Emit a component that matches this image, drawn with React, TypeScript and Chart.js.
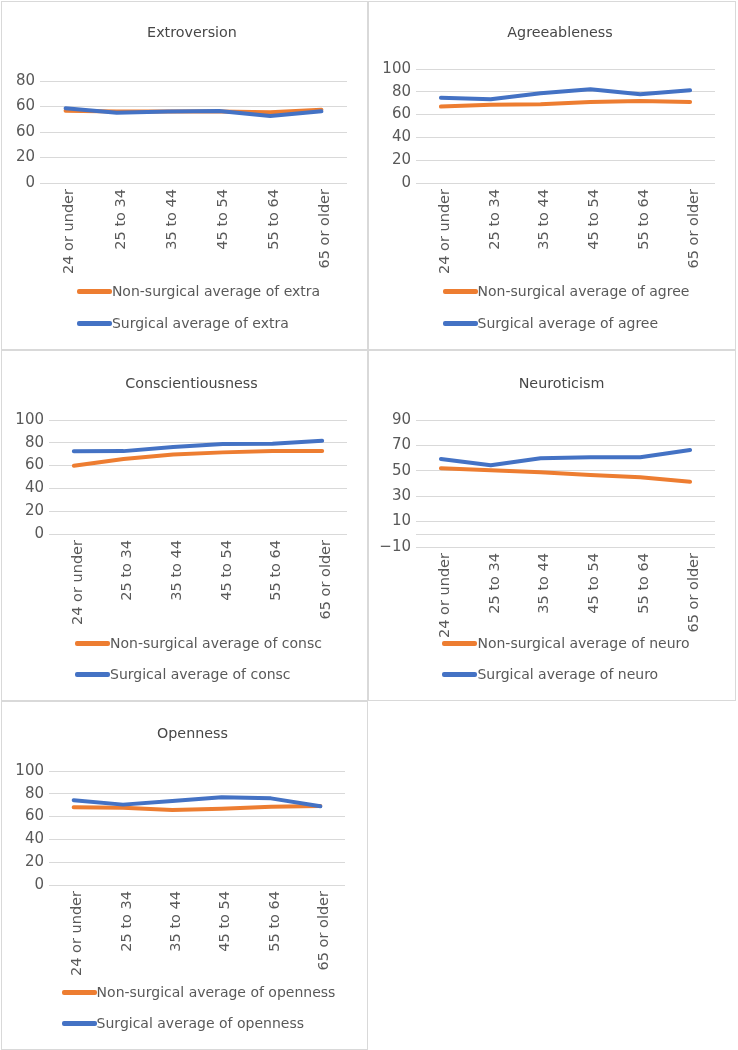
import React, { useEffect, useRef } from "react";
import { Chart, registerables } from "chart.js";

Chart.register(...registerables);

// ---------- data ----------
const ageGroups = ["24 or under", "25 to 34", "35 to 44", "45 to 54", "55 to 64", "65 or older"];

const extraNonSurgical = [56.7, 56, 56, 56, 55.4, 57.5];
const extraSurgical = [58.6, 55.1, 56, 56.5, 52.5, 56.2];

const agreeNonSurgical = [67, 68.7, 69, 71, 72, 71];
const agreeSurgical = [74.8, 73.4, 78.7, 82.2, 77.8, 81.3];

const conscNonSurgical = [59.8, 65.7, 69.8, 71.6, 72.7, 72.7];
const conscSurgical = [72.5, 72.7, 76.3, 78.9, 79.2, 81.8];

const neuroNonSurgical = [52, 50.4, 48.8, 46.7, 44.9, 41.4];
const neuroSurgical = [59.3, 54.3, 59.8, 60.6, 60.6, 66.3];

const opennessNonSurgical = [68.2, 67.8, 65.8, 66.9, 68.7, 69.3];
const opennessSurgical = [74.3, 70.5, 73.7, 76.9, 76.0, 69];

// tick labels as printed on the Extroversion axis (bottom to top)
const extraTickLabels = ["0", "20", "60", "60", "80"];

const ORANGE = "#ED7D31";
const BLUE = "#4472C4";
const GRID = "#d9d9d9";
const TEXT = "#595959";
const TITLE_TEXT = "#474747";
const FONT = "'DejaVu Sans', sans-serif";

type PanelSpec = {
  title: string;
  nonLabel: string;
  surgLabel: string;
  non: number[];
  surg: number[];
  min: number;
  max: number;
  step: number;
  tickLabels?: string[];
  // layout
  left: number;
  top: number;
  width: number;
  height: number;
  plotLeft: number;
  plotRight: number;
  plotTop: number;
  plotBottom: number;
  titleX: number;
  titleY: number;
  legendY: [number, number];
};

const panels: PanelSpec[] = [
  {
    title: "Extroversion",
    nonLabel: "Non-surgical average of extra",
    surgLabel: "Surgical average of extra",
    non: extraNonSurgical,
    surg: extraSurgical,
    min: 0, max: 80, step: 20,
    tickLabels: extraTickLabels,
    left: 1, top: 1, width: 367, height: 349,
    plotLeft: 38, plotRight: 345, plotTop: 79, plotBottom: 181,
    titleX: 190, titleY: 31, legendY: [289, 321],
  },
  {
    title: "Agreeableness",
    nonLabel: "Non-surgical average of agree",
    surgLabel: "Surgical average of agree",
    non: agreeNonSurgical,
    surg: agreeSurgical,
    min: 0, max: 100, step: 20,
    left: 368, top: 1, width: 368, height: 349,
    plotLeft: 47, plotRight: 346, plotTop: 67, plotBottom: 181,
    titleX: 191, titleY: 31, legendY: [289, 321],
  },
  {
    title: "Conscientiousness",
    nonLabel: "Non-surgical average of consc",
    surgLabel: "Surgical average of consc",
    non: conscNonSurgical,
    surg: conscSurgical,
    min: 0, max: 100, step: 20,
    left: 1, top: 350, width: 367, height: 351,
    plotLeft: 47, plotRight: 345, plotTop: 69, plotBottom: 183,
    titleX: 189.5, titleY: 33, legendY: [292, 323],
  },
  {
    title: "Neuroticism",
    nonLabel: "Non-surgical average of neuro",
    surgLabel: "Surgical average of neuro",
    non: neuroNonSurgical,
    surg: neuroSurgical,
    min: -10, max: 90, step: 20,
    left: 368, top: 350, width: 368, height: 351,
    plotLeft: 47, plotRight: 346, plotTop: 69, plotBottom: 196,
    titleX: 192.5, titleY: 33, legendY: [292, 323],
  },
  {
    title: "Openness",
    nonLabel: "Non-surgical average of openness",
    surgLabel: "Surgical average of openness",
    non: opennessNonSurgical,
    surg: opennessSurgical,
    min: 0, max: 100, step: 20,
    left: 1, top: 701, width: 367, height: 349,
    plotLeft: 47, plotRight: 343, plotTop: 69, plotBottom: 183,
    titleX: 190.5, titleY: 32, legendY: [290, 321],
  },
];

const zeroLinePlugin = {
  id: "zeroLine",
  beforeDatasetsDraw(chart: any) {
    const y = chart.scales.y;
    if (!y || y.min > 0 || y.max < 0) return;
    const py = Math.round(y.getPixelForValue(0)) + 0.5;
    const ctx = chart.ctx;
    ctx.save();
    ctx.strokeStyle = GRID;
    ctx.lineWidth = 1;
    ctx.beginPath();
    ctx.moveTo(chart.chartArea.left, py);
    ctx.lineTo(chart.chartArea.right, py);
    ctx.stroke();
    ctx.restore();
  },
};

function Panel({ spec }: { spec: PanelSpec }) {
  const ref = useRef<HTMLCanvasElement | null>(null);
  const innerW = spec.width - 2;
  const innerH = spec.height - 2;

  useEffect(() => {
    if (!ref.current) return;
    const titleSize = 14.3;
    const titleLine = titleSize * 1.2;
    const titleTopPad = spec.titleY - titleLine / 2;
    const titleBottomPad = spec.plotTop - titleTopPad - titleLine;
    const padRight = innerW - spec.plotRight;

    // centre the title where the original sits (over the plot, not the canvas)
    const titleCenterPlugin = {
      id: "titleCenter",
      afterLayout(chart: any) {
        const tb = chart.titleBlock;
        if (!tb) return;
        const half = 160;
        tb.left = spec.titleX - half;
        tb.right = spec.titleX + half;
        tb.width = 2 * half;
      },
    };

    const chart = new Chart(ref.current, {
      type: "line",
      data: {
        labels: ageGroups,
        datasets: [
          {
            label: spec.nonLabel,
            data: spec.non,
            borderColor: ORANGE,
            backgroundColor: ORANGE,
            borderWidth: 4,
            pointRadius: 0,
            tension: 0,
            borderCapStyle: "round",
            borderJoinStyle: "round",
            order: 1,
          },
          {
            label: spec.surgLabel,
            data: spec.surg,
            borderColor: BLUE,
            backgroundColor: BLUE,
            borderWidth: 4,
            pointRadius: 0,
            tension: 0,
            borderCapStyle: "round",
            borderJoinStyle: "round",
            order: 0,
          },
        ],
      },
      options: {
        responsive: true,
        maintainAspectRatio: false,
        animation: false,
        layout: {
          padding: { left: 0, right: padRight, top: 0, bottom: 0 },
        },
        plugins: {
          legend: { display: false },
          tooltip: { enabled: false },
          title: {
            display: true,
            text: spec.title,
            color: TITLE_TEXT,
            font: { family: FONT, size: titleSize, weight: "normal" },
            padding: { top: titleTopPad, bottom: titleBottomPad },
          },
        },
        scales: {
          x: {
            offset: true,
            grid: { display: false, drawTicks: false },
            border: { display: false },
            ticks: {
              autoSkip: false,
              minRotation: 90,
              maxRotation: 90,
              padding: 6,
              labelOffset: 4,
              color: TEXT,
              font: { family: FONT, size: 14.5 },
            },
            afterFit: (scale: any) => {
              scale.height = innerH - spec.plotBottom;
            },
          },
          y: {
            min: spec.min,
            max: spec.max,
            grid: { color: GRID, drawTicks: false, lineWidth: 1 },
            border: { display: false },
            ticks: {
              stepSize: spec.step,
              padding: 5,
              color: TEXT,
              font: { family: FONT, size: 15 },
              callback: (value: any, index: number) => {
                if (spec.tickLabels) return spec.tickLabels[index];
                const v = Number(value);
                return v < 0 ? "\u2212" + Math.abs(v) : String(v);
              },
            },
            afterFit: (scale: any) => {
              scale.width = spec.plotLeft;
            },
          },
        },
      },
      plugins: [zeroLinePlugin, titleCenterPlugin],
    } as any);
    return () => chart.destroy();
  }, [spec]);

  const rowStyle = (cy: number): React.CSSProperties => ({
    position: "absolute",
    top: cy - 10,
    height: 20,
    display: "flex",
    alignItems: "center",
    whiteSpace: "nowrap",
  });

  return (
    <div
      style={{
        position: "absolute",
        left: spec.left,
        top: spec.top,
        width: spec.width,
        height: spec.height,
        boxSizing: "border-box",
        border: `1px solid ${GRID}`,
        background: "#fff",
      }}
    >
      <div style={{ position: "absolute", left: 0, top: 0, width: innerW, height: innerH }}>
        <canvas ref={ref} />
      </div>
      <div
        style={{
          position: "absolute",
          left: 28,
          right: 0,
          top: 0,
          height: innerH,
          display: "flex",
          justifyContent: "center",
          pointerEvents: "none",
        }}
      >
        <div style={{ position: "relative", display: "inline-block" }}>
          <div style={{ visibility: "hidden", height: 0, overflow: "hidden", fontFamily: FONT, fontSize: 14 }}>
            <span style={{ display: "inline-block", width: 35 }} />
            {spec.nonLabel.length > spec.surgLabel.length ? spec.nonLabel : spec.surgLabel}
          </div>
          {[
            { label: spec.nonLabel, color: ORANGE, cy: spec.legendY[0] },
            { label: spec.surgLabel, color: BLUE, cy: spec.legendY[1] },
          ].map((it) => (
            <div key={it.label} style={{ ...rowStyle(it.cy), left: 0 }}>
              <span style={{ display: "inline-block", width: 35, height: 5, background: it.color, borderRadius: 2 }} />
              <span style={{ fontFamily: FONT, fontSize: 14, color: TEXT, marginLeft: 0 }}>{it.label}</span>
            </div>
          ))}
        </div>
      </div>
    </div>
  );
}

export default function App() {
  return (
    <div style={{ position: "absolute", left: 0, top: 0, width: 738, height: 1050, background: "#fff" }}>
      {panels.map((p) => (
        <Panel key={p.title} spec={p} />
      ))}
    </div>
  );
}
